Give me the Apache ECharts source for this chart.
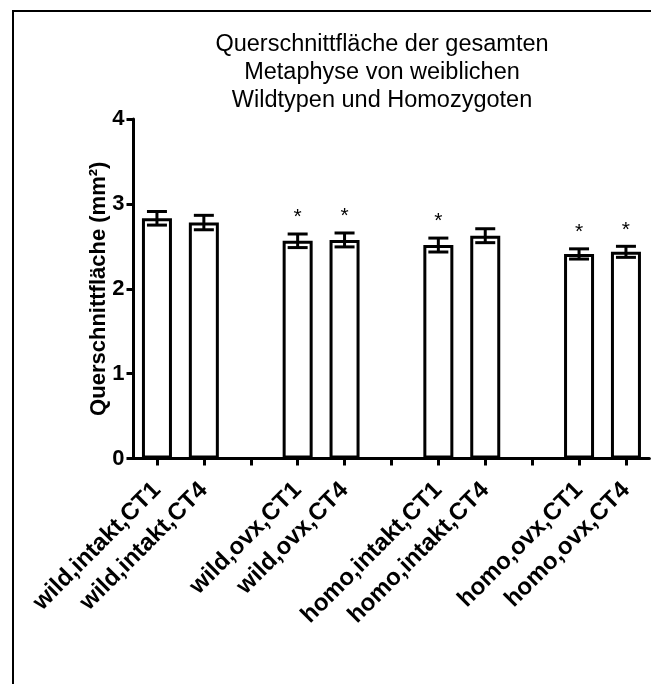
<!DOCTYPE html>
<html>
<head>
<meta charset="utf-8">
<script src="https://cdn.jsdelivr.net/npm/echarts@6/dist/echarts.min.js"></script>
<style>
html,body{margin:0;padding:0;background:#fff;}
#chart{width:651px;height:684px;}
</style>
</head>
<body>
<div id="chart"></div>
<script>
var titleLines = ['Querschnittfläche der gesamten', 'Metaphyse von weiblichen', 'Wildtypen und Homozygoten'];
var categories = ['wild,intakt,CT1', 'wild,intakt,CT4', '', 'wild,ovx,CT1', 'wild,ovx,CT4', '', 'homo,intakt,CT1', 'homo,intakt,CT4', '', 'homo,ovx,CT1', 'homo,ovx,CT4'];
var means = [2.83, 2.78, null, 2.565, 2.575, null, 2.515, 2.625, null, 2.41, 2.435];
var errors = [0.08, 0.085, null, 0.08, 0.082, null, 0.082, 0.082, null, 0.06, 0.065];
var significant = [false, false, false, true, true, false, true, false, false, true, true];
var yTicks = [0, 1, 2, 3, 4];
var yName = 'Querschnittfläche (mm²)';

var FONT = '"Liberation Sans", Arial, sans-serif';

var errData = [];
var starData = [];
for (var i = 0; i < categories.length; i++) {
  if (means[i] != null) {
    errData.push([i, means[i], errors[i]]);
    if (significant[i]) starData.push([i, means[i] + errors[i]]);
  }
}

var chart = echarts.init(document.getElementById('chart'), null, {renderer: 'canvas'});
chart.setOption({
  animation: false,
  backgroundColor: '#fff',
  graphic: [
    {type: 'rect', shape: {x: 13, y: 11, width: 700, height: 700},
     style: {fill: 'none', stroke: '#000', lineWidth: 2}, silent: true},
    {type: 'text', x: 382, y: 31, style: {text: titleLines.join('\n'), textAlign: 'center',
     fontFamily: FONT, fontSize: 23.5, lineHeight: 28, fill: '#000'}}
  ],
  grid: {left: 133.5, right: 1.6, top: 119, bottom: 225.5, containLabel: false},
  xAxis: {
    type: 'category', data: categories,
    axisLine: {lineStyle: {color: '#000', width: 3}},
    axisTick: {show: true, alignWithLabel: true, interval: 0, length: 7, lineStyle: {color: '#000', width: 3}},
    axisLabel: {interval: 0, rotate: 45, margin: 28, color: '#000', fontFamily: FONT, fontWeight: 'bold', fontSize: 24}
  },
  yAxis: {
    type: 'value', min: yTicks[0], max: yTicks[yTicks.length - 1], interval: 1,
    name: yName, nameLocation: 'middle', nameRotate: 90, nameGap: 24, nameMoveOverlap: false,
    nameTextStyle: {color: '#000', fontFamily: FONT, fontWeight: 'bold', fontSize: 22},
    axisLine: {show: true, lineStyle: {color: '#000', width: 3}},
    axisTick: {show: true, length: 7, lineStyle: {color: '#000', width: 3}},
    axisLabel: {margin: 9, color: '#000', fontFamily: FONT, fontWeight: 'bold', fontSize: 22},
    splitLine: {show: false}
  },
  series: [
    {type: 'bar', data: means, barWidth: 30,
     itemStyle: {color: '#fff', borderColor: '#000', borderWidth: 3}},
    {type: 'custom', data: errData, z: 5,
     renderItem: function (params, api) {
       var x = api.value(0), m = api.value(1), e = api.value(2);
       var top = api.coord([x, m + e]);
       var bot = api.coord([x, m - e]);
       var cx = top[0], hw = 10;
       var st = {stroke: '#000', lineWidth: 3};
       return {type: 'group', children: [
         {type: 'line', shape: {x1: cx, y1: top[1], x2: cx, y2: bot[1]}, style: st},
         {type: 'line', shape: {x1: cx - hw, y1: top[1], x2: cx + hw, y2: top[1]}, style: st},
         {type: 'line', shape: {x1: cx - hw, y1: bot[1], x2: cx + hw, y2: bot[1]}, style: st}
       ]};
     }},
    {type: 'custom', data: starData, z: 6,
     renderItem: function (params, api) {
       var p = api.coord([api.value(0), api.value(1)]);
       return {type: 'text', x: p[0], y: p[1] - 6,
         style: {text: '*', textAlign: 'center', textVerticalAlign: 'bottom',
                 fontFamily: FONT, fontSize: 21, fill: '#000'}};
     }}
  ]
});
</script>
</body>
</html>
